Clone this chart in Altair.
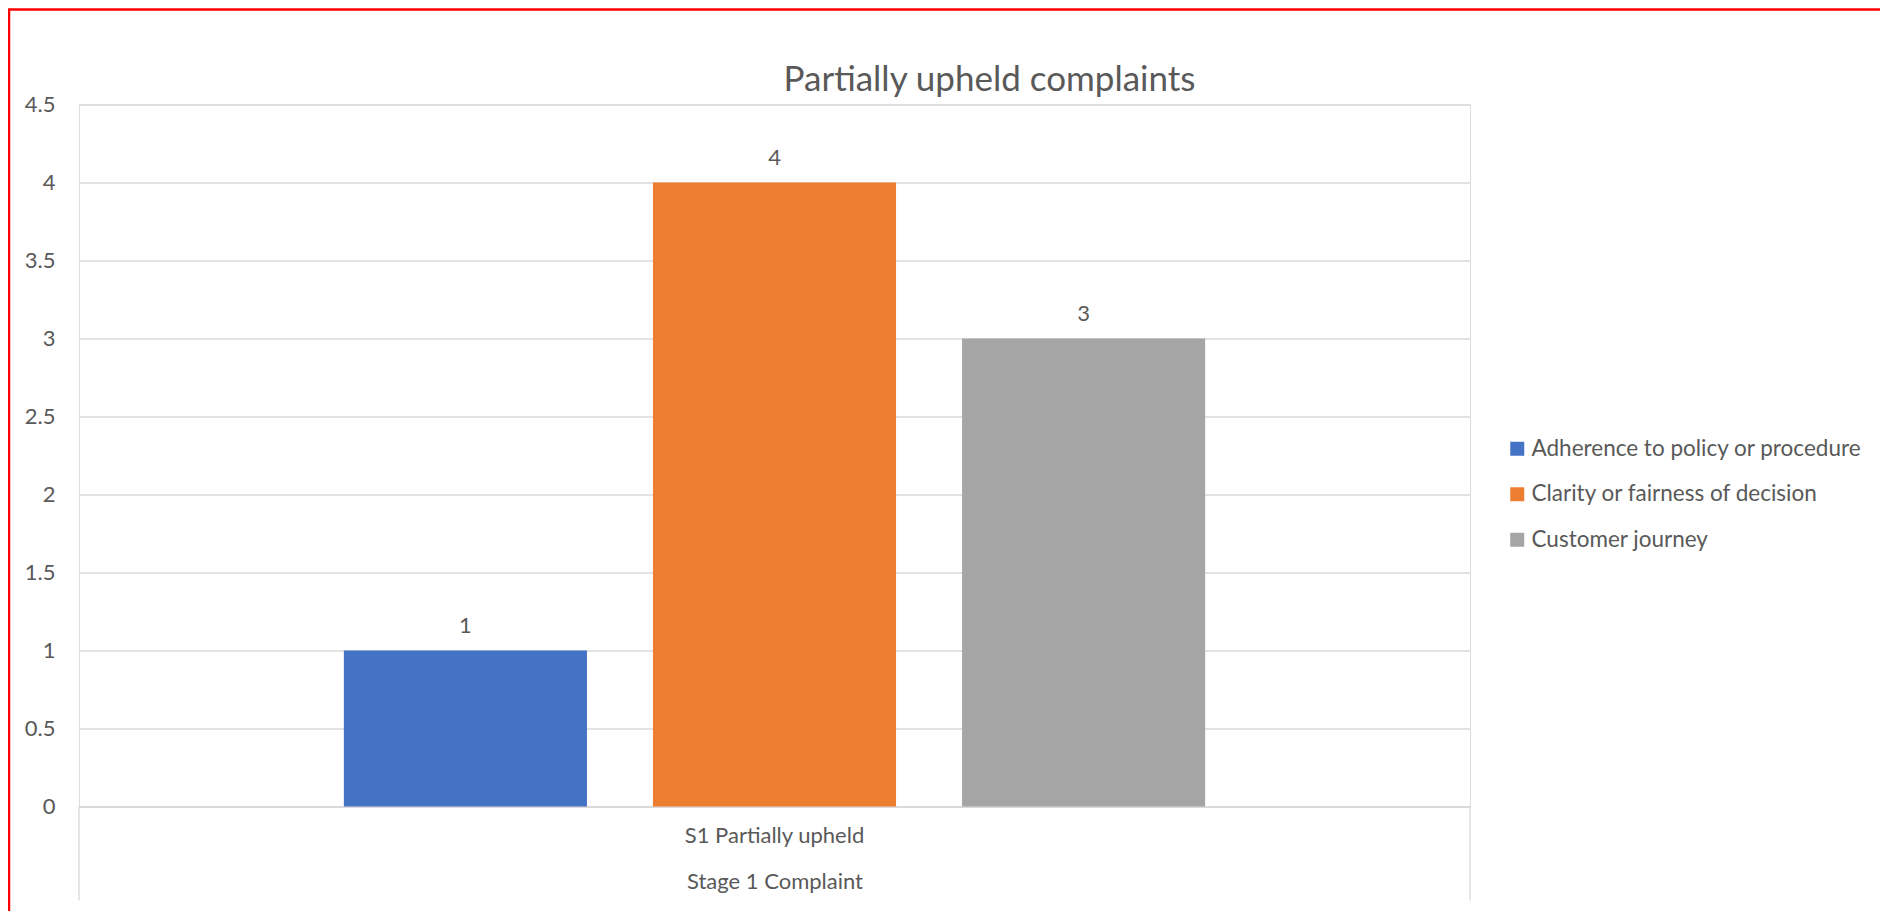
import altair as alt
import pandas as pd

categories = ["Adherence to policy or procedure", "Clarity or fairness of decision", "Customer journey"]
values = [1, 4, 3]
group_label = "S1 Partially upheld"
outer_label = "Stage 1 Complaint"
colors = ["#4472C4", "#ED7D31", "#A5A5A5"]
y_ticks = [0, 0.5, 1, 1.5, 2, 2.5, 3, 3.5, 4, 4.5]

df = pd.DataFrame({"group": [group_label] * 3, "series": categories, "value": values})

FONT = "Lato"
TXT = "#595959"
FS = 22
W, H = 1391, 702

base = alt.Chart(df)

x_enc = alt.X("group:N", title=outer_label,
              scale=alt.Scale(paddingOuter=0.25, paddingInner=0),
              axis=alt.Axis(labelAngle=0, ticks=False, labelPadding=19, titlePadding=25,
                            domainColor="#d9d9d9", domainWidth=1.3,
                            labelFontSize=FS, titleFontSize=FS, titleFontWeight="normal",
                            labelColor=TXT, titleColor=TXT, labelFont=FONT, titleFont=FONT))
xo_enc = alt.XOffset("series:N", sort=categories,
                     scale=alt.Scale(paddingInner=0.2136, paddingOuter=0.1068))
y_enc = alt.Y("value:Q", title=None,
              scale=alt.Scale(domain=[0, 4.5], nice=False),
              axis=alt.Axis(values=y_ticks, format="~g", domain=False, ticks=False,
                            labelPadding=24, gridColor="#d9d9d9", gridWidth=1.3,
                            labelFontSize=FS, labelColor=TXT, labelFont=FONT))

bars = base.mark_bar().encode(
    x=x_enc, xOffset=xo_enc, y=y_enc,
    color=alt.Color("series:N", sort=categories, title=None,
                    scale=alt.Scale(domain=categories, range=colors),
                    legend=alt.Legend(orient="none", legendX=1427, legendY=333,
                                      symbolType="square", symbolSize=196, symbolStrokeWidth=0,
                                      labelFontSize=22.5, labelFont=FONT, labelColor=TXT,
                                      labelOffset=3, rowPadding=22.5, padding=0,
                                      labelLimit=400)),
)

labels = base.mark_text(font=FONT, fontSize=FS, color=TXT, baseline="middle", dy=-25).encode(
    x="group:N", xOffset=alt.XOffset("series:N", sort=categories), y="value:Q", text="value:Q"
)

one = pd.DataFrame({"a": [0]})
left_line = alt.Chart(one).mark_rule(color="#d9d9d9", strokeWidth=1.3).encode(
    x=alt.value(0), y=alt.value(H), y2=alt.value(H + 94))
right_line = alt.Chart(one).mark_rule(color="#d9d9d9", strokeWidth=1.3).encode(
    x=alt.value(W), y=alt.value(H), y2=alt.value(H + 94))
frame = alt.Chart(one).mark_rect(filled=False, stroke="#ff0000", strokeWidth=2.5).encode(
    x=alt.value(-70), x2=alt.value(1806), y=alt.value(-95), y2=alt.value(H + 130))

chart = alt.layer(bars, labels, left_line, right_line, frame).properties(
    width=W, height=H,
    title=alt.TitleParams("Partially upheld complaints", font=FONT, fontSize=35,
                          fontWeight="normal", color=TXT, anchor="middle", dx=215, offset=-90),
    autosize=alt.AutoSizeParams(type="none"),
    padding={"left": 71, "top": 96.5, "right": 410, "bottom": 104.5},
).configure_view(strokeWidth=0).configure(background="white")

chart.save("out.html", embed_options={"renderer": "svg", "actions": False})
